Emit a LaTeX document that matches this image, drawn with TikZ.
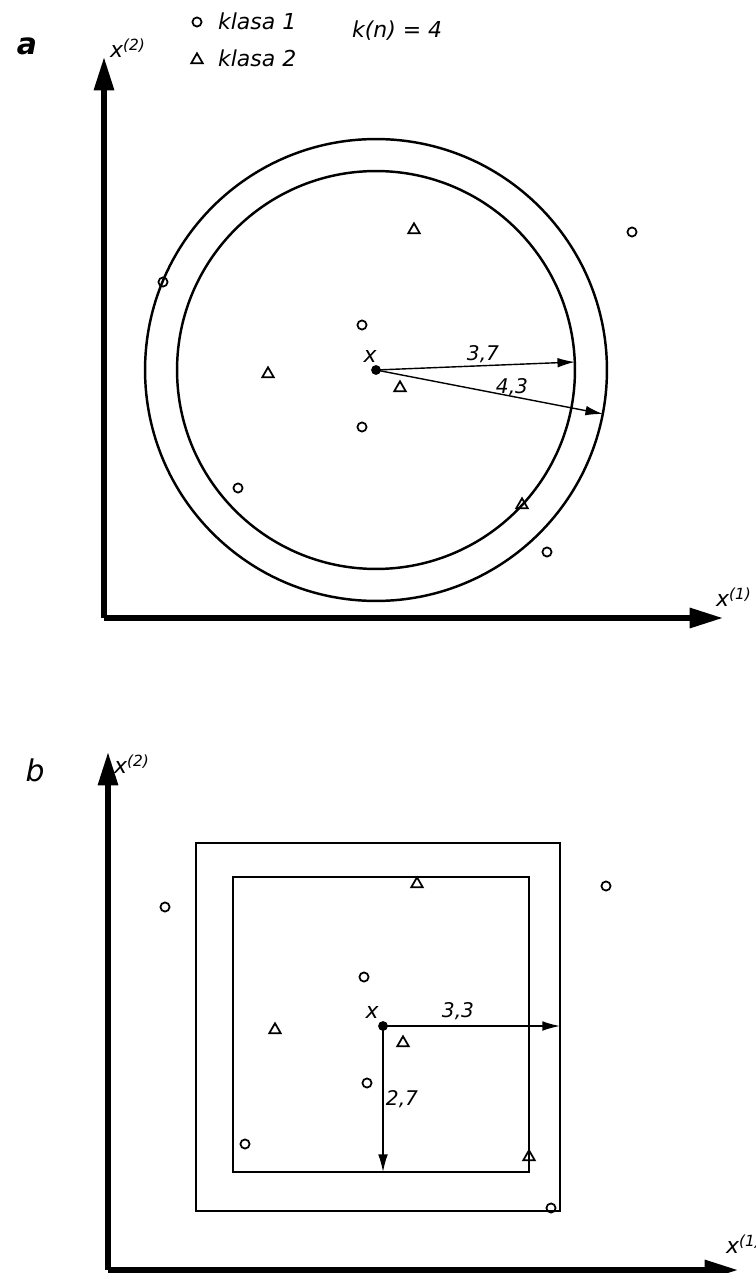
\documentclass[tikz,border=0pt]{standalone}
\usepackage{fontspec}
\setmainfont{DejaVu Sans}
\usetikzlibrary{shapes.geometric, arrows.meta}
\tikzstyle{klasaone} = [circle, draw, line width=1pt, inner sep=0pt, minimum size=5.2pt]
\tikzstyle{klasatwo} = [regular polygon, regular polygon sides=3, draw, line width=1pt,
inner sep=0pt, minimum size=7.6pt]
\tikzstyle{xpoint} = [circle, fill=black, inner sep=0pt, minimum size=5.6pt]
\tikzstyle{axisarrow} = [line width=3pt, -{Triangle[length=19pt,width=11pt]}]
\tikzstyle{boundary} = [line width=1.4pt]
\tikzstyle{radiusarrow} = [line width=0.8pt, -{Latex[length=10pt,width=5.5pt]}]
\tikzstyle{lettering} = [font=\itshape\fontsize{12.5}{14}\selectfont, inner sep=1pt]
\tikzstyle{numbers} = [font=\itshape\fontsize{11.5}{13}\selectfont, inner sep=1pt]
\tikzstyle{panel} = [font=\itshape\fontsize{17}{19}\selectfont, inner sep=1pt]

\begin{document}
\begin{tikzpicture}[x=0.02cm, y=-0.02cm]
\useasboundingbox (0,0) rectangle (755,1273);

% Panel a
\node[panel, font=\itshape\bfseries\fontsize{17}{19}\selectfont] (panela) at (27,46) {a};
\node[klasaone] (leg1) at (197,22) {};
\node[lettering, anchor=west] (leg1text) at (216,21) {klasa 1};
\node[klasatwo] (leg2) at (197,60) {};
\node[lettering, anchor=west] (leg2text) at (216,58) {klasa 2};
\node[lettering, anchor=west] (kn) at (350,31) {k(n) = 4};

\coordinate (origa) at (104,618);
\coordinate (ytipa) at (104,57);
\coordinate (xtipa) at (723,618);
\node[lettering, anchor=west] (ya) at (108,48) {x\textsuperscript{(2)}};
\node[lettering] (xa) at (734,597) {x\textsuperscript{(1)}};

\draw[boundary] (376,370) circle [radius=3.98cm];
\draw[boundary] (376,370) circle [radius=4.62cm];

\node[xpoint] (xa0) at (376,370) {};
\node[lettering] (xalabel) at (370,356) {x};

\node[klasaone] (a1) at (163,282) {};
\node[klasaone] (a2) at (362,325) {};
\node[klasaone] (a3) at (362,427) {};
\node[klasaone] (a4) at (238,488) {};
\node[klasaone] (a5) at (632,232) {};
\node[klasaone] (a6) at (547,552) {};
\node[klasatwo] (a7) at (414,230) {};
\node[klasatwo] (a8) at (268,374) {};
\node[klasatwo] (a9) at (400,388) {};
\node[klasatwo] (a10) at (522,505) {};

\coordinate (r37) at (575,362);
\coordinate (r43) at (603,414);
\node[numbers] (l37) at (483,354) {3,7};
\node[numbers] (l43) at (512,387) {4,3};

% Panel b
\node[panel] (panelb) at (35,770) {b};
\coordinate (origb) at (108,1270);
\coordinate (ytipb) at (108,752);
\coordinate (xtipb) at (738,1270);
\node[lettering, anchor=west] (yb) at (112,764) {x\textsuperscript{(2)}};
\node[lettering, anchor=west] (xb) at (724,1244) {x\textsuperscript{(1)}};

\draw[boundary] (196,843) rectangle (560,1211);
\draw[boundary] (233,877) rectangle (529,1172);

\node[xpoint] (xb0) at (383,1026) {};
\node[lettering] (xblabel) at (372,1012) {x};

\node[klasaone] (b1) at (165,907) {};
\node[klasaone] (b2) at (606,886) {};
\node[klasaone] (b3) at (364,977) {};
\node[klasaone] (b4) at (367,1083) {};
\node[klasaone] (b5) at (245,1144) {};
\node[klasaone] (b6) at (551,1208) {};
\node[klasatwo] (b7) at (417,884) {};
\node[klasatwo] (b8) at (275,1030) {};
\node[klasatwo] (b9) at (403,1043) {};
\node[klasatwo] (b10) at (529,1157) {};

\coordinate (r33) at (560,1026);
\coordinate (r27) at (383,1172);
\node[numbers] (l33) at (458,1011) {3,3};
\node[numbers] (l27) at (402,1099) {2,7};

% Arrows
\draw[axisarrow] (origa) -- (ytipa);
\draw[axisarrow] (origa) -- (xtipa);
\draw[radiusarrow] (xa0.center) -- (r37);
\draw[radiusarrow] (xa0.center) -- (r43);
\draw[axisarrow] (origb) -- (ytipb);
\draw[axisarrow] (origb) -- (xtipb);
\draw[radiusarrow] (xb0.center) -- (r33);
\draw[radiusarrow] (xb0.center) -- (r27);

\end{tikzpicture}
\end{document}
